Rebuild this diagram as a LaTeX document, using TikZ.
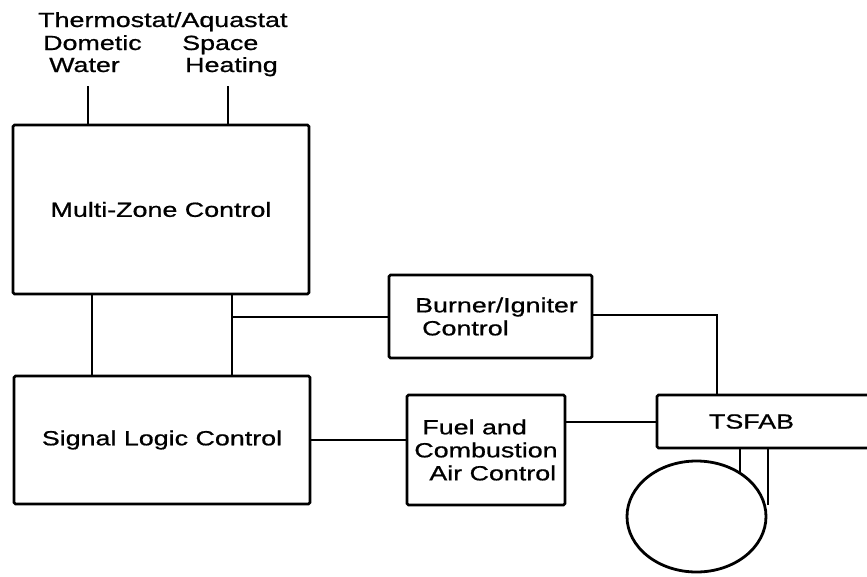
\documentclass[tikz,border=0pt]{standalone}
\usepackage{fontspec}
\setmainfont{Liberation Sans}[FakeStretch=1.31,FakeBold=0.8]
\usetikzlibrary{shapes.geometric}
\begin{document}
\begin{tikzpicture}[x=1pt,y=-1pt,
  every node/.style={font=\fontsize{20.5}{23}\selectfont},
  box/.style={draw, line width=2.8pt, rounded corners=1.5pt, inner sep=0pt, align=left},
  wire/.style={line width=2pt},
  lbl/.style={anchor=base west, inner sep=0pt}]
\useasboundingbox (0,0) rectangle (867,576);
\clip (0,0) rectangle (867,576);

% top labels
\node[lbl] (tt) at (38,27) {Thermostat/Aquastat};
\node[lbl] (dw1) at (43,50) {Dometic};
\node[lbl] (dw2) at (49,72) {Water};
\node[lbl] (sh1) at (182,50) {Space};
\node[lbl] (sh2) at (185,72) {Heating};

% boxes
\node[box, minimum width=296, minimum height=169] (mz) at (161,209.5) {Multi-Zone Control};
\node[box, minimum width=296, minimum height=128] (sl) at (162,440) {Signal Logic Control};
\node[box, minimum width=203, minimum height=83] (bi) at (490.5,316.5)
  {\hspace*{12pt}Burner/Igniter\\\hspace*{19pt}Control};
\node[box, minimum width=158, minimum height=110] (fc) at (486,450)
  {\hspace*{8pt}Fuel and\\Combustion\hspace*{4pt}\\\hspace*{15pt}Air Control};
\node[box, minimum width=243, minimum height=53] (ts) at (778.5,421.5) {TSFAB\hspace*{54pt}};
\node[draw, ellipse, line width=2.8pt, minimum width=139, minimum height=111, inner sep=0pt] (drum) at (696.5,516.5) {};

% free ends and junctions
\coordinate (dwend) at (88,86);
\coordinate (shend) at (228,86);
\coordinate (va) at (92,0);
\coordinate (vb) at (232,0);
\coordinate (j1) at (232,317);
\coordinate (c1) at (717,315);
\coordinate (lega) at (740,473);
\coordinate (legb) at (768,505);

% connectors
\draw[wire] (dwend) -- (dwend |- mz.north);
\draw[wire] (shend) -- (shend |- mz.north);
\draw[wire] (mz.south -| va) -- (sl.north -| va);
\draw[wire] (mz.south -| vb) -- (sl.north -| vb);
\draw[wire] (j1) -- (j1 -| bi.west);
\draw[wire] (c1 -| bi.east) -- (c1) -- (c1 |- ts.north);
\draw[wire] (sl.east) -- (sl.east -| fc.west);
\draw[wire] (ts.west -| fc.east) -- (ts.west);
\draw[line width=2.6pt] (lega |- ts.south) -- (lega);
\draw[line width=2.6pt] (legb |- ts.south) -- (legb);
\end{tikzpicture}
\end{document}
